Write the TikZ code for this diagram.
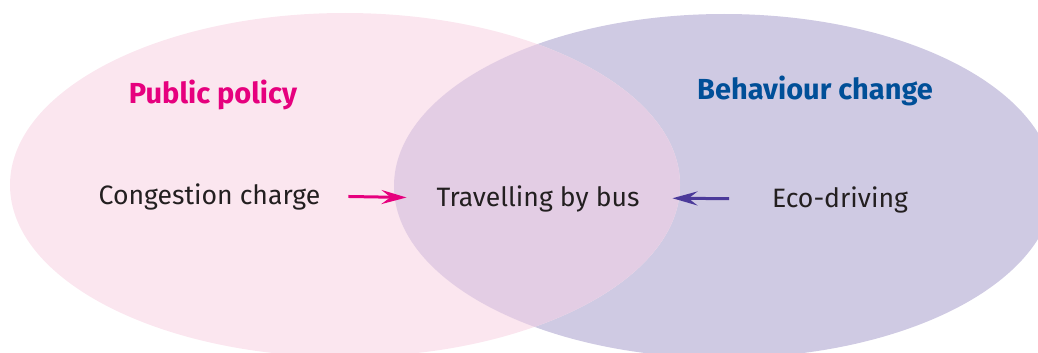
\documentclass[tikz,border=0pt]{standalone}
\usepackage{fontspec}
\setmainfont{Fira Sans}
\usetikzlibrary{arrows.meta}

\definecolor{policyfill}{HTML}{FBE6EF}
\definecolor{behavfill}{HTML}{CFCAE3}
\definecolor{bothfill}{HTML}{E3CDE4}
\definecolor{policytext}{HTML}{E6007E}
\definecolor{behavtext}{HTML}{004F98}
\definecolor{bodytext}{HTML}{231F20}
\definecolor{behavarrow}{HTML}{4B3A9A}

\tikzset{
  item/.style={inner sep=0pt, outer sep=0pt, text=bodytext,
    text height=16pt, text depth=0pt,
    font=\fontsize{26.6}{30}\selectfont},
  heading/.style={inner sep=0pt, outer sep=0pt,
    font=\fontsize{29}{34}\selectfont\bfseries},
  link/.style={line width=3pt,
    -{Stealth[length=25pt, width=14pt, inset=9pt]}},
}

\begin{document}
\begin{tikzpicture}[x=1pt, y=-1pt]
  \useasboundingbox (0,0) rectangle (1038,353);

  % the two sets and their overlap
  \begin{scope}
    \clip (0,0) rectangle (1038,353);
    \fill[behavfill] (724,186) ellipse [x radius=330, y radius=172];
    \fill[policyfill] (345,185) ellipse [x radius=335, y radius=172];
    \begin{scope}
      \clip (724,186) ellipse [x radius=330, y radius=172];
      \fill[bothfill] (345,185) ellipse [x radius=335, y radius=172];
    \end{scope}
  \end{scope}

  % set titles
  \node[heading, text=policytext] (policy) at (213,95) {Public policy};
  \node[heading, text=behavtext] (behav) at (815,91) {Behaviour change};

  % members
  \node[item, anchor=base] (cong) at (209.5,204) {Congestion charge};
  \node[item, anchor=base] (bus) at (538,206) {Travelling by bus};
  \node[item, anchor=base] (eco) at (840,207) {Eco-driving};

  % influences
  \draw[link, policytext, shorten <=28pt, shorten >=30pt]
    (cong.east) -- (bus.west);
  \draw[link, behavarrow, shorten <=43pt, shorten >=33pt]
    (eco.west) -- (bus.east);
\end{tikzpicture}
\end{document}
